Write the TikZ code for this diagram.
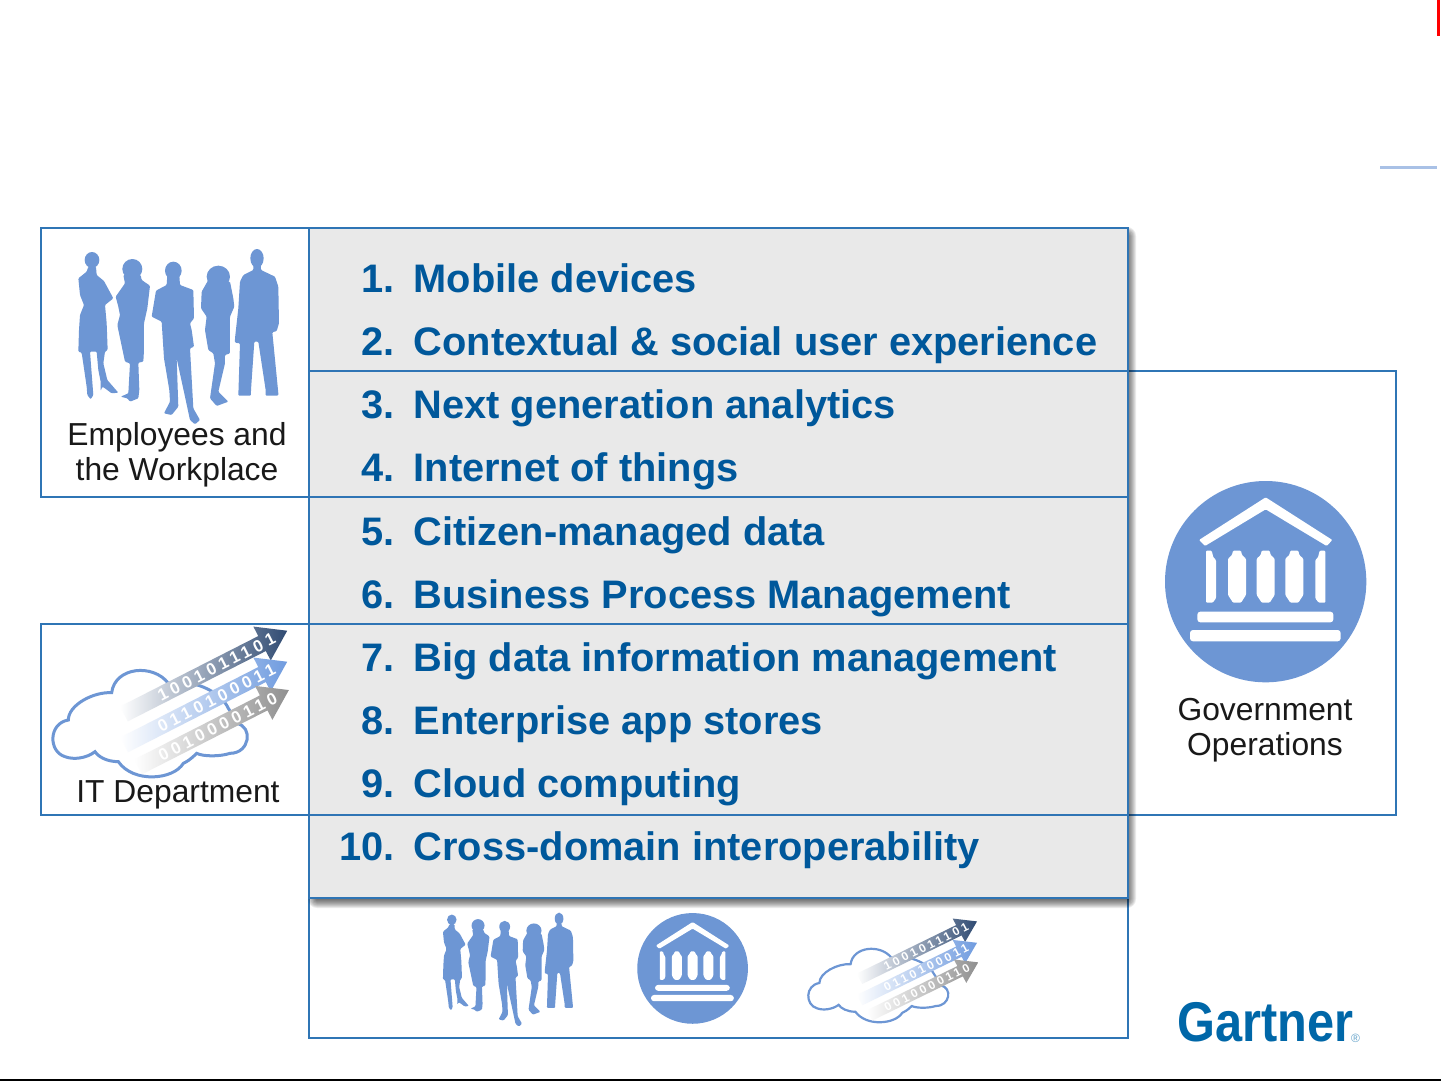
\documentclass[tikz,border=0pt]{standalone}
\usepackage{fontspec}
\setmainfont{Liberation Sans}
\newfontfamily\bitfont[LetterSpace=26]{Liberation Sans}
\usetikzlibrary{shapes.arrows}
\definecolor{rim}{HTML}{2F75B5}
\definecolor{panel}{HTML}{E9E9E9}
\definecolor{navyink}{HTML}{00589B}
\definecolor{logoink}{HTML}{0067A8}
\definecolor{sky}{HTML}{6D96D4}
\definecolor{bitnavy}{HTML}{2F4A72}
\definecolor{bitsky}{HTML}{6F9BDF}
\definecolor{bitgray}{HTML}{8F8F8F}
\definecolor{paleline}{HTML}{A9C1E6}
\tikzset{
    box/.style={draw=rim, line width=1.6pt, fill=white},
    rule/.style={draw=rim, line width=1.6pt},
    rowtext/.style={text=navyink, inner sep=0pt, font=\bfseries\fontsize{39.8}{44}\selectfont},
    caption/.style={text=black!90, inner sep=0pt, align=center, font=\fontsize{31.8}{35}\selectfont},
    bitarrow/.style 2 args={shape=single arrow, transform shape, anchor=tip, rotate=27,
        inner sep=0pt, text width=#2pt, align=right, text height=43pt, text depth=7pt,
        single arrow head extend=32pt, single arrow tip angle=68, text=white,
        font=\bitfont\bfseries\fontsize{50}{50}\selectfont,
        left color=white, middle color=#1, right color=#1},
    crowd/.pic={
        \begin{scope}[fill=sky, rounded corners=1pt]
        \fill (156,105) ellipse (22 and 24);
        \fill (145,125) -- (168,125) -- (170,150) -- (192,168) -- (220,220) -- (195,240) -- (200,295) -- (203,375) -- (195,380) -- (190,415) -- (202,465) -- (235,503) -- (215,505) -- (195,490) -- (187,485) -- (182,498) -- (182,470) -- (175,435) -- (170,380) -- (150,380) -- (158,485) -- (160,510) -- (152,523) -- (142,510) -- (140,485) -- (125,383) -- (115,380) -- (117,315) -- (120,270) -- (132,240) -- (120,210) -- (115,160) -- (140,140) -- cycle;
        \fill (277,132) circle (30);
        \fill (250,150) -- (302,150) -- (305,165) -- (330,182) -- (322,250) -- (312,295) -- (312,375) -- (310,410) -- (295,413) -- (298,495) -- (295,520) -- (270,530) -- (262,520) -- (242,515) -- (265,505) -- (270,415) -- (255,410) -- (235,315) -- (232,300) -- (240,270) -- (235,245) -- (227,215) -- (255,175) -- cycle;
        \fill (400,137) ellipse (25 and 27);
        \fill (382,150) -- (418,150) -- (420,180) -- (460,195) -- (462,280) -- (450,295) -- (455,315) -- (462,365) -- (450,370) -- (460,550) -- (480,585) -- (465,598) -- (450,585) -- (435,515) -- (410,400) -- (415,545) -- (395,570) -- (372,565) -- (390,530) -- (388,495) -- (372,400) -- (365,290) -- (335,275) -- (348,197) -- (380,180) -- cycle;
        \fill (535,155) ellipse (35 and 33);
        \fill (510,170) -- (570,170) -- (580,220) -- (583,245) -- (570,275) -- (570,385) -- (555,390) -- (555,415) -- (535,500) -- (565,530) -- (530,543) -- (510,520) -- (525,415) -- (520,385) -- (505,375) -- (495,315) -- (500,275) -- (483,250) -- (485,200) -- (505,165) -- cycle;
        \fill (651,100) ellipse (20 and 28);
        \fill (640,120) -- (663,120) -- (663,135) -- (705,155) -- (715,185) -- (717,295) -- (710,318) -- (697,322) -- (715,505) -- (715,512) -- (677,512) -- (677,495) -- (655,350) -- (643,350) -- (633,495) -- (633,512) -- (595,512) -- (600,355) -- (585,353) -- (585,340) -- (595,250) -- (600,170) -- (610,150) -- (640,135) -- cycle;
        \end{scope}
    },
    temple/.pic={
        \fill[sky] (347,335) circle (302);
        \begin{scope}[fill=white, rounded corners=1pt]
        \fill (147,210) -- (347,82) -- (547,210) -- (530,228) -- (347,118) -- (165,228) -- cycle;
        \foreach \cx in {261, 347, 433}
            \fill ({\cx-12},242) -- ({\cx+12},242) -- ({\cx+15},255) -- ({\cx+27},266) -- ({\cx+27},375) -- ({\cx+12},398) -- ({\cx-12},398) -- ({\cx-27},375) -- ({\cx-27},266) -- ({\cx-15},255) -- cycle;
        \fill (168,242) -- (185,242) -- (190,262) -- (198,270) -- (198,385) -- (188,398) -- (168,398) -- cycle;
        \fill (526,242) -- (509,242) -- (504,262) -- (496,270) -- (496,385) -- (506,398) -- (526,398) -- cycle;
        \fill[rounded corners=3pt] (142,425) rectangle (550,457);
        \fill[rounded corners=3pt] (120,480) rectangle (572,514);
        \end{scope}
    },
    pics/cloudbits/.style={code={
        \draw[sky, fill=white, line width=#1] (75,410) .. controls (25,395) and (25,310) .. (85,300)
            .. controls (85,255) and (160,215) .. (215,218)
            .. controls (225,140) and (340,130) .. (385,190)
            .. controls (450,175) and (540,210) .. (565,265)
            .. controls (575,280) and (585,295) .. (590,310)
            .. controls (640,320) and (630,400) .. (570,400)
            .. controls (540,410) and (490,410) .. (470,400)
            .. controls (450,420) and (440,425) .. (430,430)
            .. controls (400,480) and (280,490) .. (235,425)
            .. controls (200,425) and (175,410) .. (165,395)
            .. controls (140,415) and (100,420) .. (75,410) -- cycle;
        \node[bitarrow={bitnavy}{512}] (bitstop) at (742,32) {1001011101\kern6pt};
        \node[bitarrow={bitsky}{511}] (bitsmid) at (742,125) {0110100011\kern6pt};
        \node[bitarrow={bitgray}{470}] (bitslow) at (747,210) {0010000110\kern6pt};
    }}
}

\begin{document}
\begin{tikzpicture}[x=1pt, y=-1pt]
    \useasboundingbox (0, 0) rectangle (1441, 1081);
    \fill[white] (0, 0) rectangle (1441, 1081);

    % page furniture
    \fill[red] (1437, 0) rectangle (1440, 36);
    \fill[paleline] (1380, 166) rectangle (1437, 169);
    \fill[black] (0, 1079) rectangle (1441, 1081);

    % outer boxes
    \draw[box] (41, 228) rectangle (309, 497);
    \draw[box] (41, 624) rectangle (309, 815);
    \draw[box] (1127, 371) rectangle (1396, 815);
    \draw[box] (309, 898) rectangle (1128, 1038);

    % panel with its shadow
    \foreach \d in {1, 2, ..., 9}
        \fill[black, opacity=0.08, rounded corners=\d pt] ({317-\d}, {236-\d}) rectangle ({1127+\d}, {899+\d});
    \draw[box, fill=panel] (309, 228) rectangle (1128, 898);
    \foreach \y in {371, 497, 624, 815}
        \draw[rule] (309, \y) -- (1128, \y);

    \foreach[count=\n] \txt in {Mobile devices, Contextual \& social user experience, Next generation analytics,
            Internet of things, Citizen-managed data, Business Process Management,
            Big data information management, Enterprise app stores, Cloud computing, Cross-domain interoperability} {
        \pgfmathsetmacro\y{292.5+63.15*(\n-1)}
        \node[rowtext, anchor=base east] (num\n) at (395, \y) {\n.};
        \node[rowtext, anchor=base west] (item\n) at (413.5, \y) {\txt};
    }

    % captions
    \node[caption] (workplace) at (177, 455) {Employees and\\the Workplace};
    \node[caption] (itdept) at (178, 795) {IT Department};
    \node[caption] (govops) at (1265, 730) {Government\\Operations};

    % pictures
    \pic[scale=1/3] at (40, 225) {crowd};
    \pic[scale=1/3] at (40, 620) {cloudbits=3pt};
    \pic[scale=1/3] at (1150, 470) {temple};
    \pic[scale=0.2167] at (418, 897) {crowd};
    \pic[scale=0.1833] at (629, 907) {temple};
    \pic[xscale=0.24, yscale=0.23] at (799, 914) {cloudbits=2.2pt};

    % logo
    \node[text=logoink, inner sep=0pt, anchor=base west, xscale=0.87, font=\bfseries\fontsize{56}{56}\selectfont] (gartner) at (1177, 1041) {Gartner};
    \node[text=logoink!60, inner sep=0pt, anchor=base west, font=\fontsize{12}{12}\selectfont] (regmark) at (1351, 1042) {®};
\end{tikzpicture}
\end{document}
